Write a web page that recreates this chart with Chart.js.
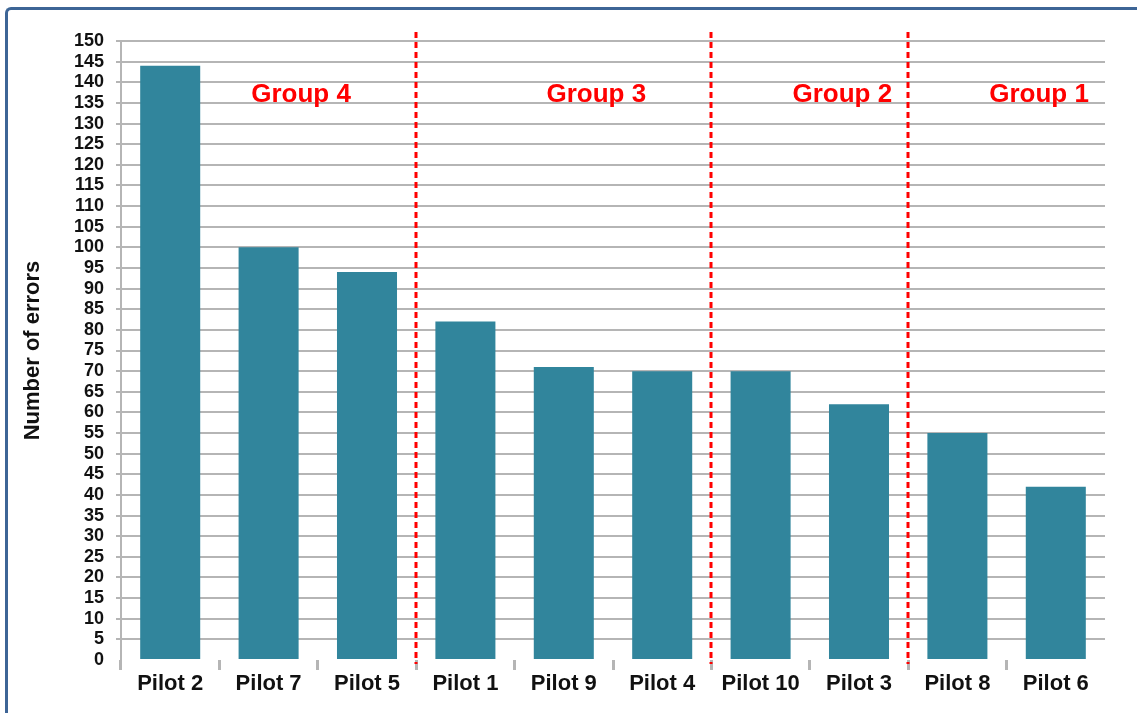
<!DOCTYPE html>
<html>
<head>
<meta charset="utf-8">
<script src="https://cdn.jsdelivr.net/npm/chart.js@4/dist/chart.umd.min.js"></script>
<style>
  html, body { margin: 0; padding: 0; background: #ffffff; overflow: hidden; }
  #wrap { position: relative; width: 1137px; height: 713px; overflow: hidden; }
  #frame {
    position: absolute; left: 5px; top: 7px; width: 1200px; height: 760px;
    border-left: 3px solid #3d6596; border-top: 3px solid #3d6596;
    border-top-left-radius: 6px; box-sizing: border-box; pointer-events: none;
  }
  canvas { position: absolute; left: 0; top: 0; }
</style>
</head>
<body>
<div id="wrap">
  <canvas id="chart" width="1137" height="713"></canvas>
  <div id="frame"></div>
</div>
<script>
// Error counts per pilot, sorted high to low
const pilots = ['Pilot 2', 'Pilot 7', 'Pilot 5', 'Pilot 1', 'Pilot 9', 'Pilot 4', 'Pilot 10', 'Pilot 3', 'Pilot 8', 'Pilot 6'];
const errors = [144, 100, 94, 82, 71, 70, 70, 62, 55, 42];

// Groups: name, first and last category index
const groupNames = ['Group 4', 'Group 3', 'Group 2', 'Group 1'];
const groupStart = [0, 3, 6, 8];
const groupEnd = [2, 5, 7, 9];

const yMax = 150;
const yStep = 5;

const GRID = '#b5b5b5';
const RED = '#ff0000';
const FONT = '"Liberation Sans", Arial, sans-serif';

// Red dashed separators between groups plus the group captions
const groupPlugin = {
  id: 'groups',
  afterDatasetsDraw(chart) {
    const ctx = chart.ctx;
    const x = chart.scales.x;
    const area = chart.chartArea;
    const half = (x.getPixelForValue(1) - x.getPixelForValue(0)) / 2;
    ctx.save();
    ctx.strokeStyle = RED;
    ctx.lineWidth = 3;
    ctx.setLineDash([6, 4]);
    for (let g = 1; g < groupStart.length; g++) {
      const px = Math.round(x.getPixelForValue(groupStart[g]) - half);
      ctx.beginPath();
      ctx.moveTo(px, area.top - 9);
      ctx.lineTo(px, area.bottom + 4);
      ctx.stroke();
    }
    ctx.setLineDash([]);
    ctx.fillStyle = RED;
    ctx.font = 'bold 26px ' + FONT;
    ctx.textAlign = 'center';
    ctx.textBaseline = 'middle';
    for (let g = 0; g < groupNames.length; g++) {
      const mid = (groupStart[g] + groupEnd[g]) / 2 + 0.33;
      const px = x.getPixelForValue(mid);
      ctx.fillText(groupNames[g], px, 95);
    }
    ctx.restore();
  }
};

new Chart(document.getElementById('chart'), {
  type: 'bar',
  data: {
    labels: pilots,
    datasets: [{
      data: errors,
      backgroundColor: '#31859c',
      borderWidth: 0,
      barPercentage: 0.61,
      categoryPercentage: 1.0
    }]
  },
  options: {
    responsive: false,
    animation: false,
    devicePixelRatio: 1,
    layout: { padding: { left: 0, right: 32, top: 41, bottom: 0 } },
    plugins: { legend: { display: false }, tooltip: { enabled: false } },
    scales: {
      x: {
        offset: true,
        border: { display: false },
        grid: {
          offset: true,
          drawOnChartArea: false,
          drawTicks: true,
          tickLength: 10,
          lineWidth: 3,
          color: c => (c.type === 'scale' ? 'rgba(0,0,0,0)' : GRID)
        },
        ticks: {
          color: '#111111',
          padding: 1,
          font: { family: FONT, size: 22, weight: 'bold' }
        },
        afterFit(scale) { scale.height = 53; }
      },
      y: {
        min: 0,
        max: yMax,
        border: { display: true, color: GRID, width: 2 },
        grid: {
          color: c => (c.tick && c.tick.value === 0 ? 'rgba(0,0,0,0)' : GRID),
          lineWidth: 2,
          drawTicks: true,
          tickLength: 5
        },
        ticks: {
          stepSize: yStep,
          autoSkip: false,
          color: '#111111',
          padding: 12,
          font: { family: FONT, size: 18, weight: 'bold' }
        },
        title: {
          display: true,
          text: 'Number of errors',
          color: '#111111',
          padding: { top: 20, bottom: 0 },
          font: { family: FONT, size: 22, weight: 'bold' }
        },
        afterFit(scale) { scale.width = 121; }
      }
    }
  },
  plugins: [groupPlugin]
});
</script>
</body>
</html>
